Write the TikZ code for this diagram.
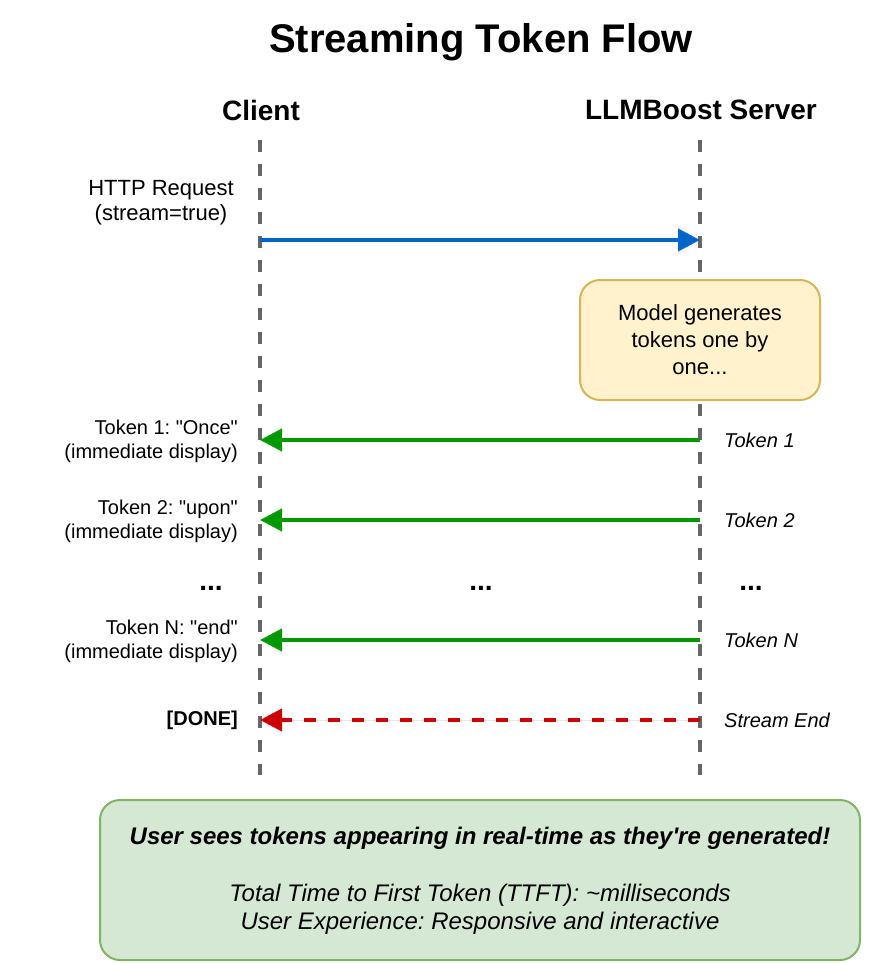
\documentclass[tikz,border=0pt]{standalone}
\usepackage{fontspec}
\setmainfont{Liberation Sans}
\usetikzlibrary{arrows.meta}

\definecolor{lifegray}{HTML}{666666}
\definecolor{reqblue}{HTML}{0066CC}
\definecolor{tokgreen}{HTML}{009900}
\definecolor{endred}{HTML}{CC0000}
\definecolor{notefill}{HTML}{FFF2CC}
\definecolor{notedraw}{HTML}{D6B656}
\definecolor{sumfill}{HTML}{D5E8D4}
\definecolor{sumdraw}{HTML}{82B366}

\frenchspacing
\newcommand{\dq}{\textquotedbl}

\begin{document}
\begin{tikzpicture}[x=1pt,y=-1pt,
  lifeline/.style={draw=lifegray, line width=4pt, dash pattern=on 12pt off 12pt},
  msg/.style={line width=4pt, -{Triangle[length=22pt,width=22pt]}},
  lbl/.style={font=\fontsize{20}{24}\selectfont, align=right, anchor=east, inner sep=0pt},
  rlbl/.style={font=\fontsize{20}{24}\selectfont\itshape, anchor=west, inner sep=0pt},
  head/.style={font=\fontsize{28}{33}\selectfont\bfseries, inner sep=0pt},
  dots/.style={font=\fontsize{28}{33}\selectfont\bfseries, inner sep=0pt},
  notebox/.style={draw=notedraw, fill=notefill, line width=2pt, rounded corners=20pt}
]
\useasboundingbox (0,0) rectangle (882,963);

% title and participant headers
\node[font=\fontsize{40}{48}\selectfont\bfseries, inner sep=0pt] (title) at (481,42) {Streaming Token Flow};
\node[head] (client) at (261,110) {Client};
\node[head] (server) at (701,110) {LLMBoost Server};

% lifelines
\coordinate (cTop) at (260,140);
\coordinate (cBot) at (260,775);
\coordinate (sTop) at (700,140);
\coordinate (sBot) at (700,775);
\draw[lifeline] (cTop) -- (cBot);
\draw[lifeline] (sTop) -- (sBot);

% message anchor points on the lifelines
\coordinate (cReq) at (260,240);  \coordinate (sReq) at (700,240);
\coordinate (cT1)  at (260,440);  \coordinate (sT1)  at (700,440);
\coordinate (cT2)  at (260,520);  \coordinate (sT2)  at (700,520);
\coordinate (cTN)  at (260,640);  \coordinate (sTN)  at (700,640);
\coordinate (cEnd) at (260,720);  \coordinate (sEnd) at (700,720);

% request
\node[font=\fontsize{22}{25}\selectfont, align=center, inner sep=0pt] (req) at (161,203) {HTTP Request\\(stream=true)};
\draw[msg, draw=reqblue, fill=reqblue] (cReq) -- (sReq);

% generation note
\node[notebox, minimum width=240pt, minimum height=120pt, align=center,
      font=\fontsize{22}{27}\selectfont] (gen) at (700,340) {Model generates\\tokens one by\\one...};

% token messages
\draw[msg, draw=tokgreen, fill=tokgreen] (sT1) -- (cT1);
\draw[msg, draw=tokgreen, fill=tokgreen] (sT2) -- (cT2);
\draw[msg, draw=tokgreen, fill=tokgreen] (sTN) -- (cTN);
\draw[msg, draw=endred, fill=endred, dash pattern=on 12pt off 12pt] (sEnd) -- (cEnd);

% client-side labels
\node[lbl] (l1) at (238,441) {Token 1: \dq Once\dq\\(immediate display)};
\node[lbl] (l2) at (238,521) {Token 2: \dq upon\dq\\(immediate display)};
\node[lbl] (lN) at (238,641) {Token N: \dq end\dq\\(immediate display)};
\node[lbl, font=\fontsize{20}{24}\selectfont\bfseries] (lDone) at (238,720) {[DONE]};

% server-side labels
\node[rlbl] (r1) at (724,440) {Token 1};
\node[rlbl] (r2) at (724,520) {Token 2};
\node[rlbl] (rN) at (724,640) {Token N};
\node[rlbl] (rEnd) at (724,720) {Stream End};

% ellipses between tokens
\node[dots] (d1) at (211,588) {...};
\node[dots] (d2) at (481,588) {...};
\node[dots] (d3) at (751,588) {...};

% summary box
\node[notebox, draw=sumdraw, fill=sumfill, minimum width=760pt, minimum height=160pt] (sum) at (480,880) {};
\node[font=\fontsize{24}{28}\selectfont\bfseries\itshape, inner sep=0pt] (sum1) at (480,838) {User sees tokens appearing in real-time as they\textquotesingle re generated!};
\node[font=\fontsize{24}{28}\selectfont\itshape, align=center, inner sep=0pt] (sum2) at (480,909) {Total Time to First Token (TTFT): \textasciitilde milliseconds\\User Experience: Responsive and interactive};
\end{tikzpicture}
\end{document}
